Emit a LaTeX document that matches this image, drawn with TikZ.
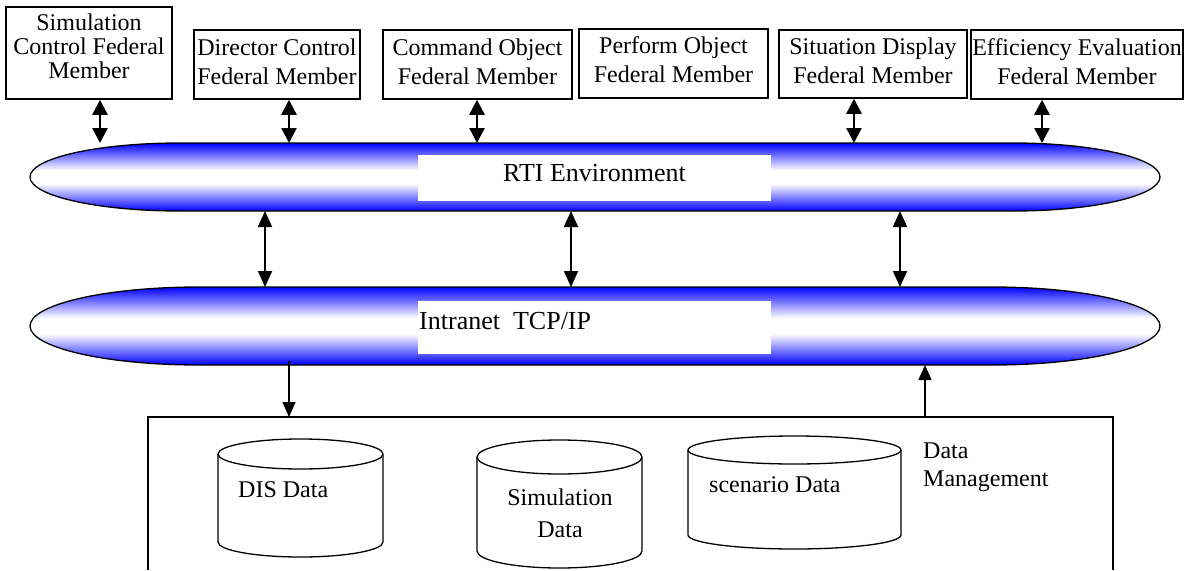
\documentclass[tikz,border=0pt]{standalone}
\usepackage{fontspec}
\setmainfont{Liberation Serif}
\usetikzlibrary{arrows.meta}
\pgfdeclareverticalshading{tube}{100bp}{color(0bp)=(blue); color(25bp)=(blue); color(33bp)=(blue!60); color(45bp)=(white); color(55bp)=(white); color(67bp)=(blue!60); color(75bp)=(blue); color(100bp)=(blue)}
\newcommand{\drum}[5]{% centre x, top y, bottom y, x radius, y radius
  \draw[line width=1.3pt] (#1,#2) ellipse [x radius=#4, y radius=#5];
  \draw[line width=1.3pt] (#1-#4,#2) -- (#1-#4,#3) arc[start angle=180, end angle=0, x radius=#4, y radius=#5] -- (#1+#4,#2);
}

\begin{document}
\begin{tikzpicture}[x=1pt, y=-1pt,
    fed/.style={draw, line width=1.5pt, inner sep=0pt},
    fedtext/.style={align=center, inner sep=0pt, font=\fontsize{24}{29}\selectfont},
    lbl/.style={inner sep=0pt, font=\fontsize{26}{30}\selectfont},
    txt/.style={align=left, inner sep=0pt, font=\fontsize{24}{28}\selectfont},
    toplink/.style={{Triangle[width=15pt,length=15pt]}-{Triangle[width=15pt,length=15pt]}, line width=2.5pt},
    midlink/.style={{Triangle[width=14pt,length=16pt]}-{Triangle[width=14pt,length=16pt]}, line width=1.8pt},
    datalink/.style={-{Triangle[width=13pt,length=15pt]}, line width=1.5pt}]
        \useasboundingbox (0,0) rectangle (1185,570);

        % federal members
        \node[fed, minimum width=166, minimum height=92, label={[fedtext, yshift=7pt, font=\fontsize{24}{24}\selectfont]center:{Simulation\\Control Federal\\Member}}] (scf) at (89,53) {};
        \node[fed, minimum width=166, minimum height=69, label={[fedtext, yshift=3pt]center:{Director Control\\Federal Member}}] (dcf) at (277,64.5) {};
        \node[fed, minimum width=189, minimum height=69, label={[fedtext, yshift=3pt]center:{Command Object\\Federal Member}}] (cof) at (477.5,64.5) {};
        \node[fed, minimum width=189, minimum height=69, label={[fedtext, yshift=4pt]center:{Perform Object\\Federal Member}}] (pof) at (673.5,63.5) {};
        \node[fed, minimum width=188, minimum height=68, label={[fedtext, yshift=3.5pt]center:{Situation Display\\Federal Member}}] (sdf) at (873,64) {};
        \node[fed, minimum width=212, minimum height=69, label={[fedtext, yshift=3pt]center:{Efficiency Evaluation\\Federal Member}}] (eef) at (1077,64.5) {};

        % RTI bus
        \shadedraw[shading=tube, line width=1.3pt] (180,143) -- (1013,143) arc[start angle=-90, end angle=90, x radius=147, y radius=34] -- (180,211) arc[start angle=90, end angle=270, x radius=150, y radius=34] -- cycle;
        \coordinate (rtitop) at (0,143);
        \coordinate (rtibot) at (0,211);
        \fill[white] (418,155) rectangle (771,201);
        \node[lbl] (rti) at (594.5,173) {RTI Environment};

        % intranet bus
        \shadedraw[shading=tube, line width=1.3pt] (199,287) -- (992,287) arc[start angle=-90, end angle=90, x radius=168, y radius=39] -- (199,365) arc[start angle=90, end angle=270, x radius=169, y radius=39] -- cycle;
        \coordinate (nettop) at (0,287);
        \coordinate (netbot) at (0,365);
        \fill[white] (418,301) rectangle (771,354);
        \node[lbl, anchor=west] (net) at (419,321) {Intranet\ \ TCP/IP};

        % data management
        \draw[line width=1.3pt] (148,570) |- (1113,417) -- (1113,570);
        \coordinate (dmtop) at (0,417);
        \drum{300.5}{454}{542}{82.5}{15}
        \drum{559.5}{457}{551}{82.5}{17}
        \drum{794.5}{450}{535}{106.5}{14}
        \node[txt, anchor=west] (dis) at (238,490) {DIS Data};
        \node[txt, align=center, font=\fontsize{24}{32}\selectfont] (sim) at (560,513) {Simulation\\Data};
        \node[txt, anchor=west] (scn) at (709,485) {scenario Data};
        \node[txt, anchor=west] (dm) at (923,467) {Data\\Management};

        % links
        \draw[toplink] (scf.south -| 100,0) -- (rtitop -| 100,0);
        \draw[toplink] (dcf.south -| 289,0) -- (rtitop -| 289,0);
        \draw[toplink] (cof.south -| 477,0) -- (rtitop -| 477,0);
        \draw[toplink] (sdf.south -| 854,0) -- (rtitop -| 854,0);
        \draw[toplink] (eef.south -| 1042,0) -- (rtitop -| 1042,0);

        \draw[midlink] (rtibot -| 265,0) -- (nettop -| 265,0);
        \draw[midlink] (rtibot -| 571,0) -- (nettop -| 571,0);
        \draw[midlink] (rtibot -| 900,0) -- (nettop -| 900,0);

        \draw[datalink] (netbot -| 289,0) ++(0,-4) -- (dmtop -| 289,0);
        \draw[datalink] (dmtop -| 925,0) -- (netbot -| 925,0);

    \end{tikzpicture}
\end{document}
